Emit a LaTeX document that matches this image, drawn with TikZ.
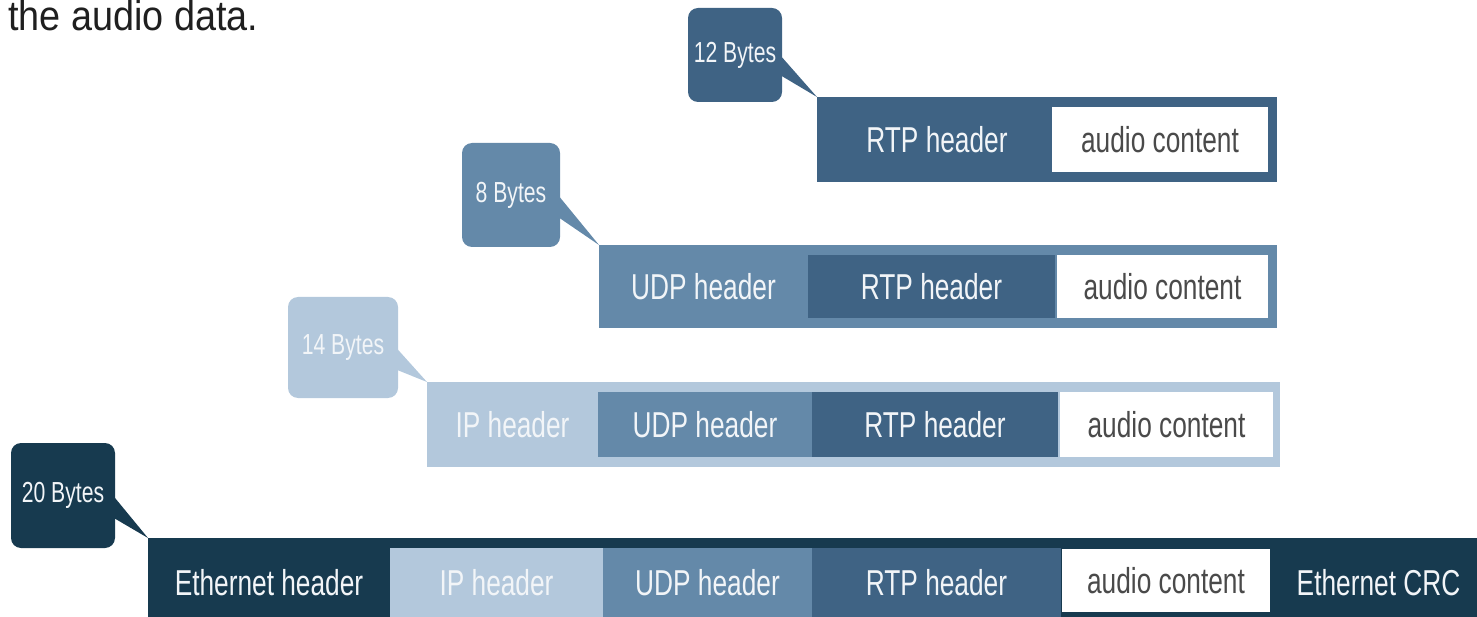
\documentclass[tikz,border=0pt]{standalone}
\usepackage{fontspec}
\setmainfont{Liberation Sans}
\newfontfamily\narrowfont[FakeStretch=0.73]{Liberation Sans}
\newfontfamily\capfont[FakeStretch=0.9]{Liberation Sans}
\usetikzlibrary{calc}

\definecolor{ethC}{HTML}{173A4F}
\definecolor{rtpC}{HTML}{3F6384}
\definecolor{udpC}{HTML}{6489A9}
\definecolor{ipC}{HTML}{B3C8DC}
\definecolor{txtDark}{HTML}{4A4A4A}
\definecolor{txtLight}{HTML}{F2F5F8}

\tikzset{
  seg/.style={rectangle, inner sep=0pt, outer sep=0pt, anchor=north west,
    text=txtLight, font=\narrowfont\fontsize{36}{40}\selectfont},
  outerbox/.style={seg},
  payload/.style={seg, fill=white, text=txtDark},
  bubble/.style={rectangle, rounded corners=10pt, inner sep=0pt, outer sep=0pt,
    anchor=north west, text=txtLight, font=\narrowfont\fontsize{29}{32}\selectfont},
}

\begin{document}
\begin{tikzpicture}[x=1pt, y=-1pt]
\useasboundingbox (0,0) rectangle (1477,617);

% caption line above the frames
\node[anchor=base west, inner sep=0pt, text=black!88,
      font=\capfont\fontsize{42}{48}\selectfont] (cap) at (8,31) {the audio data.};

% ---- RTP packet ----
\node[outerbox, fill=rtpC, minimum width=460pt, minimum height=85pt] (r1) at (817,97) {};
\node[seg, minimum width=240pt, minimum height=65pt] (r1rtp) at (817,107) {RTP header};
\node[payload, minimum width=216pt, minimum height=65pt] (r1pay) at (1052,107) {audio content};
\node[bubble, fill=rtpC, minimum width=94pt, minimum height=94pt] (b1) at (688,8) {12 Bytes};

% ---- UDP datagram ----
\node[outerbox, fill=udpC, minimum width=678pt, minimum height=83pt] (r2) at (599,245) {};
\node[seg, minimum width=209pt, minimum height=63pt] (r2udp) at (599,255) {UDP header};
\node[seg, fill=rtpC, minimum width=247pt, minimum height=63pt] (r2rtp) at (808,255) {RTP header};
\node[payload, minimum width=211pt, minimum height=63pt] (r2pay) at (1057,255) {audio content};
\node[bubble, fill=udpC, minimum width=98pt, minimum height=104pt] (b2) at (462,143) {8 Bytes};

% ---- IP packet ----
\node[outerbox, fill=ipC, minimum width=853pt, minimum height=85pt] (r3) at (427,382) {};
\node[seg, minimum width=171pt, minimum height=65pt] (r3ip) at (427,392) {IP header};
\node[seg, fill=udpC, minimum width=214pt, minimum height=65pt] (r3udp) at (598,392) {UDP header};
\node[seg, fill=rtpC, minimum width=246pt, minimum height=65pt] (r3rtp) at (812,392) {RTP header};
\node[payload, minimum width=213pt, minimum height=65pt] (r3pay) at (1060,392) {audio content};
\node[bubble, fill=ipC, minimum width=110pt, minimum height=101pt] (b3) at (288,297) {14 Bytes};

% ---- Ethernet frame ----
\node[outerbox, fill=ethC, minimum width=1329pt, minimum height=85pt] (r4) at (148,538) {};
\node[seg, minimum width=242pt, minimum height=70pt] (r4eth) at (148,548) {Ethernet header};
\node[seg, fill=ipC, minimum width=213pt, minimum height=70pt] (r4ip) at (390,548) {IP header};
\node[seg, fill=udpC, minimum width=209pt, minimum height=70pt] (r4udp) at (603,548) {UDP header};
\node[seg, fill=rtpC, minimum width=249pt, minimum height=70pt] (r4rtp) at (812,548) {RTP header};
\node[payload, minimum width=208pt, minimum height=63pt] (r4pay) at (1062,549) {audio content};
\node[seg, minimum width=197pt, minimum height=70pt] (r4crc) at (1280,548) {Ethernet CRC};
\node[bubble, fill=ethC, minimum width=104pt, minimum height=105pt] (b4) at (11,443) {20 Bytes};

% callout tails from each size bubble to the corner of its frame
\fill[rtpC] ([xshift=-2pt]b1.east) -- (r1.north west) -- ([xshift=-2pt,yshift=-20pt]b1.east) -- cycle;
\fill[udpC] ([xshift=-2pt]b2.east) -- (r2.north west) -- ([xshift=-2pt,yshift=-22pt]b2.east) -- cycle;
\fill[ipC]  ([xshift=-2pt]b3.east) -- (r3.north west) -- ([xshift=-2pt,yshift=-22pt]b3.east) -- cycle;
\fill[ethC] ([xshift=-2pt]b4.east) -- (r4.north west) -- ([xshift=-2pt,yshift=-22pt]b4.east) -- cycle;
\end{tikzpicture}
\end{document}
